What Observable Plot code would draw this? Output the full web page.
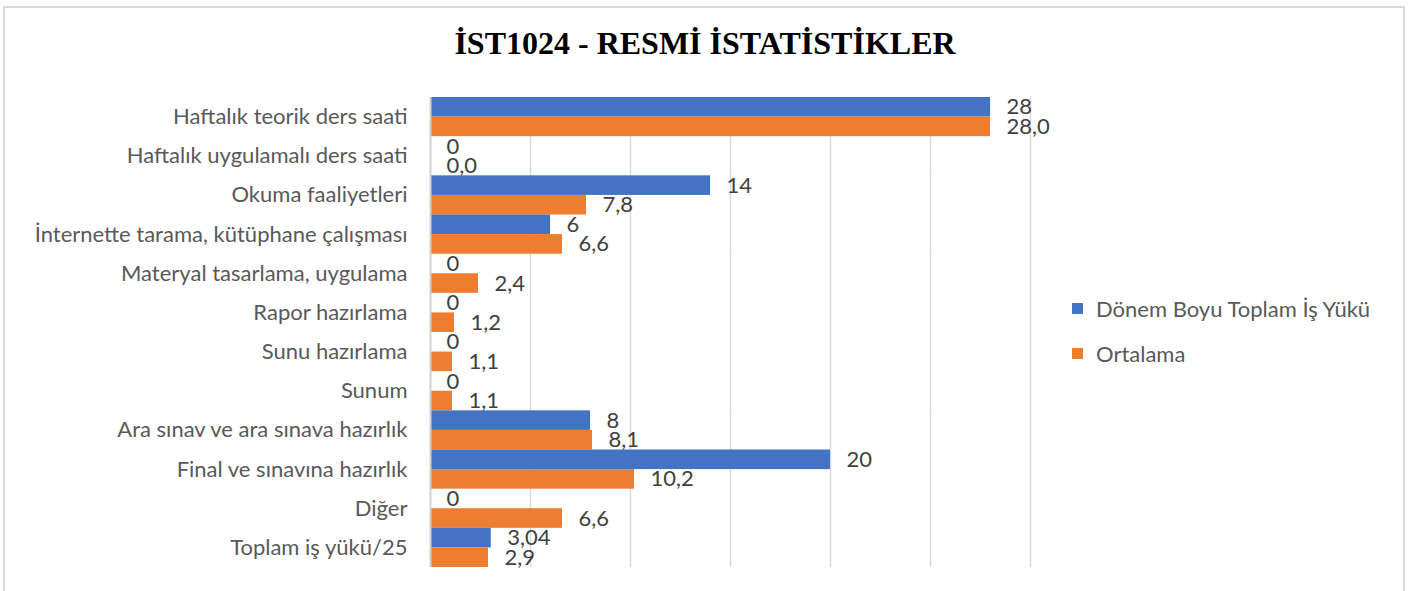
<!DOCTYPE html>
<html>
<head>
<meta charset="utf-8">
<script src="https://cdn.jsdelivr.net/npm/d3@7"></script>
<script src="https://cdn.jsdelivr.net/npm/@observablehq/plot@0.6"></script>
<style>
  html, body { margin: 0; padding: 0; background: #fff; }
  #frame { position: absolute; left: 3px; top: 6px; width: 1402px; height: 600px; border: 2px solid #d9d9d9; box-sizing: border-box; }
  #title { position: absolute; left: 0; top: 25px; width: 1410px; text-align: center; font-family: "Liberation Serif", "Times New Roman", serif; font-weight: bold; font-size: 32px; color: #000; }
  #chart { position: absolute; left: 0; top: 80px; }
  #legend { position: absolute; left: 1072px; top: 293px; font-family: Lato, "Open Sans", sans-serif; font-size: 22px; color: #595959; }
  .item { display: flex; align-items: center; height: 30px; margin-bottom: 15px; }
  .sw { width: 11px; height: 11px; margin-right: 13px; }
</style>
</head>
<body>
<div id="frame"></div>
<div id="title">İST1024 - RESMİ İSTATİSTİKLER</div>
<div id="chart"></div>
<div id="legend"></div>
<script>
const categories = [
  "Haftalık teorik ders saati",
  "Haftalık uygulamalı ders saati",
  "Okuma faaliyetleri",
  "İnternette tarama, kütüphane çalışması",
  "Materyal tasarlama, uygulama",
  "Rapor hazırlama",
  "Sunu hazırlama",
  "Sunum",
  "Ara sınav ve ara sınava hazırlık",
  "Final ve sınavına hazırlık",
  "Diğer",
  "Toplam iş yükü/25"
];
const seriesNames = ["Dönem Boyu Toplam İş Yükü", "Ortalama"];
const seriesColors = ["#4472C4", "#ED7D31"];
const totalLoad = [28, 0, 14, 6, 0, 0, 0, 0, 8, 20, 0, 3.04];
const average = [28.0, 0.0, 7.8, 6.6, 2.4, 1.2, 1.1, 1.1, 8.1, 10.2, 6.6, 2.9];
const gridTicks = [5, 10, 15, 20, 25, 30];

const fmtTotal = v => String(v).replace(".", ",");
const fmtAvg = v => v.toFixed(1).replace(".", ",");

const data = [];
categories.forEach((c, i) => {
  data.push({cat: c, series: seriesNames[0], value: totalLoad[i], label: fmtTotal(totalLoad[i])});
  data.push({cat: c, series: seriesNames[1], value: average[i], label: fmtAvg(average[i])});
});

const chart = Plot.plot({
  width: 1410,
  height: 501,
  marginLeft: 430,
  marginRight: 380,
  marginTop: 17,
  marginBottom: 14,
  style: {fontFamily: "Lato, 'Open Sans', sans-serif", background: "transparent"},
  x: {domain: [0, 30], axis: null},
  y: {domain: seriesNames, padding: 0, round: false, axis: null},
  fy: {domain: categories, padding: 0, round: false, label: null},
  color: {domain: seriesNames, range: seriesColors},
  marks: [
    Plot.ruleX(gridTicks, {stroke: "#d9d9d9", strokeWidth: 1.5}),
    Plot.barX(data, {fy: "cat", y: "series", x: "value", fill: "series"}),
    Plot.ruleX([0], {stroke: "#d0d0d0", strokeWidth: 2}),
    Plot.text(data, {fy: "cat", y: "series", x: "value", text: "label", textAnchor: "start", dx: 16, fontSize: 22, fill: "#404040"}),
    Plot.axisFy({anchor: "left", tickSize: 0, tickPadding: 23, fontSize: 22, color: "#595959", label: null})
  ]
});
document.getElementById("chart").appendChild(chart);

const legend = document.getElementById("legend");
seriesNames.forEach((n, i) => {
  const d = document.createElement("div");
  d.className = "item";
  d.innerHTML = `<span class="sw" style="background:${seriesColors[i]}"></span><span>${n}</span>`;
  legend.appendChild(d);
});
</script>
</body>
</html>
